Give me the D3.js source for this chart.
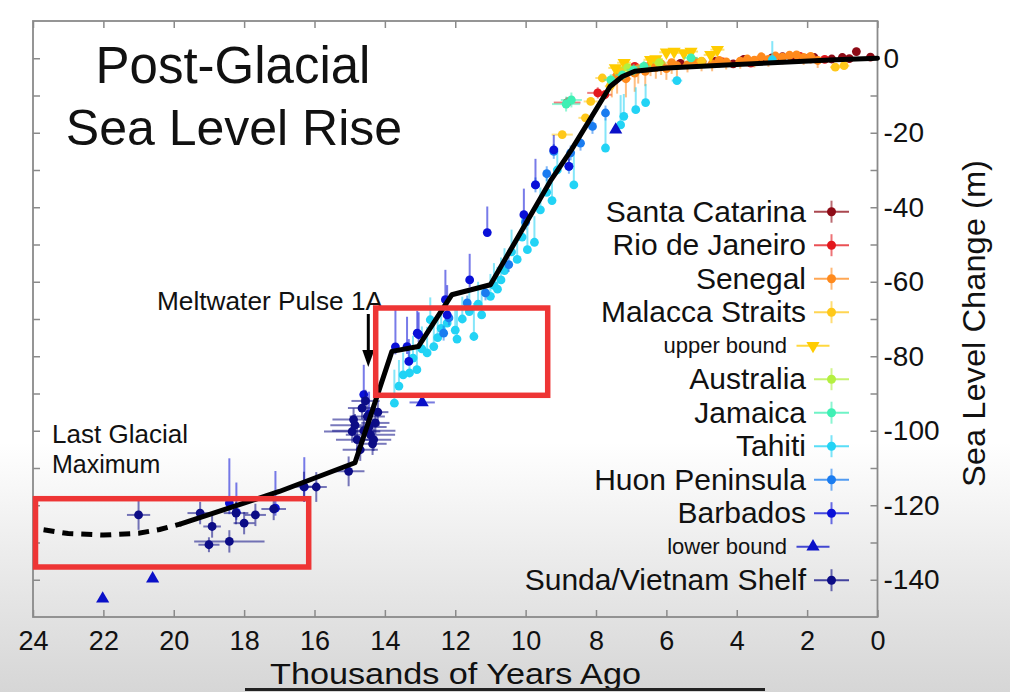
<!DOCTYPE html>
<html><head><meta charset="utf-8">
<script src="https://cdn.jsdelivr.net/npm/d3@7"></script>
<style>
body{margin:0;background:#fff}
svg{display:block}
text{font-family:"Liberation Sans",Arial,Helvetica,sans-serif;fill:#111}
</style>
</head><body>
<svg id="chart" width="1010" height="692"></svg>
<script>
// ---------- DATA (age kyr BP, sea level m, age err, err up, err down) ----------
const xTickValues = [24,22,20,18,16,14,12,10,8,6,4,2,0];
const yTickValues = [0,-10,-20,-30,-40,-50,-60,-70,-80,-90,-100,-110,-120,-130,-140];
const yLabelValues = [0,-20,-40,-60,-80,-100,-120,-140];

const santaCatarina = [[6.6,-2.3,0.15,1,1],[5.6,-1.4,0.15,1,1],[5.0,-0.9,0.15,1,1],[4.6,-0.8,0.15,1,1],[4.1,-1.5,0.15,1,1],[3.8,-0.3,0.15,1,1],[3.3,-0.6,0.15,1,1],[3.0,0.1,0.1,1,1],[2.7,0.4,0.1,1,1],[2.4,-0.2,0.15,1,1],[2.0,-0.1,0.1,1,1],[1.8,0.2,0.1,1,1],[1.3,-0.2,0.1,1,1],[1.0,0.2,0.1,1,1],[0.8,-0.1,0.1,1,1],[0.6,1.8,0.1,1,1],[0.2,0.3,0.1,1,1]];
const rioDeJaneiro = [[8.82,-11.9,0.38,1.5,1.5],[7.95,-9.3,0.3,1.5,1.5],[7.75,-9.8,0.2,1.2,1.2],[6.9,-2.2,0.2,1,1],[5.2,-1.2,0.2,1,1],[4.4,-1.0,0.2,1,1],[3.6,-1.3,0.2,1,1],[2.8,-0.3,0.2,1,1],[2.2,0.5,0.2,1,1],[1.5,-0.3,0.1,1,1]];
const senegal = [[7.55,-6.5,0.1,1,4],[7.4,-4.5,0.15,1,5],[7.15,-5.5,0.15,1,5],[6.9,-4.0,0.15,1,5],[6.8,-2.8,0.15,1,4],[6.6,-3.5,0.15,1,4],[6.45,-1.8,0.15,1,3],[6.3,-2.5,0.15,1,3],[6.15,-1.5,0.15,1,3],[6.0,-2.8,0.15,1,3],[5.85,-1.2,0.15,1,3],[5.7,-2.0,0.15,1,3],[5.4,-1.8,0.15,1,2],[5.2,-0.8,0.15,1,2],[5.0,-1.5,0.15,1,2],[4.7,-1.5,0.15,1,2],[4.5,-0.6,0.15,1,2],[4.3,-1.0,0.15,1,2],[3.9,-0.8,0.15,1,2],[3.7,-0.2,0.15,1,2],[3.5,-0.5,0.15,1,2],[3.3,0.4,0.15,1,2],[3.1,-0.3,0.15,1,2],[2.9,0.6,0.15,1,2],[2.7,0.3,0.15,1,2],[2.5,0.8,0.15,1,2],[2.3,0.9,0.15,1,2],[2.1,0.2,0.15,1,2],[1.9,0.5,0.15,1,2],[1.7,-0.6,0.15,1,2]];
const malaccaStraits = [[8.96,-20.5,0.3,1,1],[8.3,-16.0,0.2,1,1],[8.15,-11.6,0.2,1,1],[7.82,-5.3,0.2,1,1],[7.6,-7.5,0.15,1,1],[7.3,-3.3,0.15,1,1],[5.0,-0.8,0.15,1,1],[1.2,-2.4,0.15,1,1],[0.95,-2.0,0.15,1,1]];
const upperBound = [[7.45,-2.6,0.2,0,0],[7.2,-1.2,0.2,0,0],[6.45,-0.4,0.2,0,0],[6.3,-0.2,0.2,0,0],[6.0,1.6,0.2,0,0],[5.78,1.8,0.2,0,0],[5.5,1.4,0.2,0,0],[5.3,1.8,0.2,0,0],[4.74,0.9,0.2,0,0],[4.55,2.3,0.2,0,0]];
const australia = [[7.1,-2.5,0.2,1,1],[6.2,-1.2,0.2,1,1]];
const jamaica = [[8.85,-12.3,0.4,2,2],[8.7,-11.2,0.3,2,2],[7.58,-5.8,0.2,1.5,1.5],[7.25,-4.5,0.2,1,1],[6.93,-3.1,0.2,1.5,1.5],[6.64,-2.2,0.2,1.5,1.5],[5.3,0.1,0.2,1,1]];
const tahiti = [[13.73,-92.6,0.05,9,0],[13.6,-88.0,0.05,7,0],[13.48,-85.0,0.05,6,0],[13.3,-84.5,0.05,6,0],[13.2,-80.5,0.05,6,0],[13.09,-83.6,0.05,6,0],[12.95,-78.0,0.05,6,0],[12.8,-79.1,0.05,7,0],[12.71,-70.2,0.05,6,0],[12.61,-77.4,0.05,7,0],[12.5,-75.0,0.05,6,0],[12.4,-72.5,0.05,6,0],[12.23,-71.1,0.05,6,0],[12.0,-73.0,0.05,6,0],[11.95,-75.4,0.05,8,0],[11.8,-70.0,0.05,6,0],[11.6,-68.0,0.05,6,0],[11.47,-74.7,0.05,9,0],[11.35,-66.0,0.05,6,0],[11.25,-68.9,0.05,7,0],[11.0,-63.9,0.05,6,0],[10.9,-61.0,0.05,6,0],[10.8,-62.0,0.05,6,0],[10.7,-59.5,0.05,6,0],[10.6,-57.0,0.05,6,0],[10.4,-52.0,0.05,6,0],[10.24,-54.0,0.05,6,0],[10.1,-48.0,0.05,6,0],[9.95,-51.4,0.05,7,0],[9.75,-49.4,0.05,7,0],[9.58,-40.7,0.05,6,0],[9.4,-36.0,0.05,6,0],[9.25,-38.2,0.05,7,0],[9.1,-30.0,0.05,6,0],[8.63,-34.0,0.05,8,0],[7.73,-24.1,0.05,8,0],[7.3,-17.9,0.05,8,0],[7.21,-15.6,0.05,6,0],[6.87,-13.8,0.05,6,0],[6.59,-11.9,0.05,5,0],[5.7,-6.0,0.15,1,1],[2.99,-0.4,0.05,5,0]];
const huonPeninsula = [[12.33,-73.8,0.1,2,2],[12.18,-69.7,0.1,2,2],[11.66,-65.7,0.1,2,2],[11.14,-63.0,0.1,2,2],[10.48,-55.4,0.1,2,2],[10.0,-44.0,0.1,2,2],[9.72,-34.0,0.1,2,2],[9.4,-31.0,0.1,2,2],[9.2,-25.0,0.1,2,2],[8.77,-29.0,0.1,2,2],[8.72,-25.4,0.1,2,2],[8.44,-22.8,0.1,2,2],[8.1,-18.3,0.1,2,2],[7.73,-14.7,0.1,2,2]];
const barbados = [[18.42,-119.4,0.1,12,3],[18.22,-121.9,0.1,8,2],[17.11,-120.8,0.1,10,2],[16.29,-115.1,0.1,8,4],[14.6,-90.3,0.1,8,3],[14.45,-95.5,0.1,6,2],[13.7,-77.5,0.1,10,2],[13.37,-77.4,0.1,8,2],[13.32,-81.4,0.1,6,1],[13.08,-73.8,0.1,6,1],[13.04,-74.2,0.1,6,2],[12.28,-64.8,0.1,8,1],[12.23,-68.9,0.1,8,1],[11.59,-59.5,0.1,7,2],[11.09,-46.8,0.1,7,0],[10.05,-42.0,0.1,7,2],[9.72,-34.0,0.1,7,1],[9.2,-24.6,0.1,4,1],[8.77,-29.0,0.1,4,1]];
const lowerBound = [[22.02,-145.1,0,0,0],[20.6,-139.7,0,0,0],[12.94,-92.4,0.36,0,0],[7.44,-19.2,0,0,0]];
const sundaShelf = [[21.0,-122.6,0.33,4,4],[19.25,-122.1,0.36,3,3],[19.0,-130.6,0.3,2,2],[18.91,-125.7,0.25,3,3],[18.42,-129.7,1.0,3,3],[18.23,-122.1,0.35,3,3],[18.0,-124.8,0.3,3,3],[17.68,-122.6,0.3,3,3],[17.16,-121.0,0.35,3,3],[16.3,-115.0,0.3,4,4],[15.95,-115.1,0.3,4,4],[15.03,-110.9,0.45,4,4],[14.93,-100.2,0.8,3,3],[14.89,-97.0,0.6,3,3],[14.85,-98.5,0.7,3,3],[14.79,-102.4,0.6,3,3],[14.7,-105.1,0.5,3,3],[14.65,-93.9,0.4,3,3],[14.6,-100.0,0.9,3,3],[14.55,-92.0,0.4,3,3],[14.5,-96.2,0.5,3,3],[14.45,-99.0,0.5,3,3],[14.41,-101.1,0.7,3,3],[14.35,-103.5,0.4,3,3],[14.32,-102.4,0.5,3,3],[14.27,-97.9,0.4,3,3],[14.2,-95.0,0.3,3,3]];

const curveSolid = [[19.8,-125.0],[17.0,-116.3],[14.85,-108.6],[13.8,-78.7],[13.05,-77.4],[12.1,-63.5],[11.0,-60.8],[9.3,-33.0],[8.7,-24.6],[7.6,-7.6],[7.25,-4.9],[6.9,-3.5],[6.0,-2.6],[4.0,-1.7],[1.2,-0.4],[0.0,0.0]];
const curveDashed = [[23.7,-126.6],[23.0,-127.6],[22.0,-128.0],[21.0,-127.5],[20.4,-126.5],[19.8,-125.0]];

const legendNames = ["Santa Catarina","Rio de Janeiro","Senegal","Malacca Straits","upper bound","Australia","Jamaica","Tahiti","Huon Peninsula","Barbados","lower bound","Sunda/Vietnam Shelf"];
const legendColors = ["#8e0b16","#e3171c","#ff8a1c","#ffc81a","#ffcc00","#b4f040","#3ff0b4","#22d3f5","#1a7cf0","#0a10d8","#0a10c8","#0c0c86"];
const legendMarkers = ["circle","circle","circle","circle","down","circle","circle","circle","circle","circle","up","circle"];
const seriesData = [santaCatarina,rioDeJaneiro,senegal,malaccaStraits,upperBound,australia,jamaica,tahiti,huonPeninsula,barbados,lowerBound,sundaShelf];

// ---------- LAYOUT ----------
const W = 1010, H = 692;
const plot = {left:33, right:877.5, top:21, bottom:617};
const svg = d3.select("#chart");

const defs = svg.append("defs");
const grad = defs.append("linearGradient").attr("id","bg").attr("x1",0).attr("y1",0).attr("x2",0).attr("y2",1);
grad.append("stop").attr("offset","0%").attr("stop-color","#ffffff");
grad.append("stop").attr("offset","64%").attr("stop-color","#ffffff");
grad.append("stop").attr("offset","80%").attr("stop-color","#ececec");
grad.append("stop").attr("offset","100%").attr("stop-color","#d6d6d6");
svg.append("rect").attr("width",W).attr("height",H).attr("fill","url(#bg)");

const x = d3.scaleLinear().domain([24,0]).range([plot.left, plot.right]);
const y = d3.scaleLinear().domain([-150,10]).range([plot.bottom, plot.top]);

const frameColor = "#8a8a8a";
const gB = svg.append("g").attr("transform",`translate(0,${plot.bottom})`)
  .call(d3.axisBottom(x).tickValues(xTickValues).tickSizeInner(-7).tickSizeOuter(0).tickPadding(13).tickFormat(d=>String(d)));
const gT = svg.append("g").attr("transform",`translate(0,${plot.top})`)
  .call(d3.axisTop(x).tickValues(xTickValues).tickSizeInner(-7).tickSizeOuter(0).tickFormat(""));
const gR = svg.append("g").attr("transform",`translate(${plot.right},0)`)
  .call(d3.axisRight(y).tickValues(yTickValues).tickSizeInner(-7).tickSizeOuter(0).tickPadding(6)
    .tickFormat(d=> yLabelValues.includes(d) ? String(d) : ""));
const gL = svg.append("g").attr("transform",`translate(${plot.left},0)`)
  .call(d3.axisLeft(y).tickValues(yTickValues).tickSizeInner(-7).tickSizeOuter(0).tickFormat(""));
[gB,gT,gR,gL].forEach(g=>{
  g.select(".domain").remove();
  g.selectAll(".tick line").attr("stroke",frameColor).attr("stroke-width",1.5);
  g.selectAll(".tick text").attr("font-size",28).attr("fill","#111")
    .attr("font-family",'"Liberation Sans",Arial,sans-serif');
});
gB.selectAll(".tick text").attr("font-size",27).attr("dy","0.74em");
svg.append("rect").attr("x",plot.left).attr("y",plot.top)
  .attr("width",plot.right-plot.left).attr("height",plot.bottom-plot.top)
  .attr("fill","none").attr("stroke",frameColor).attr("stroke-width",1.8);

// ---------- DATA MARKS ----------
const gData = svg.append("g");
function drawMarker(g, kind, cx, cy, color, big){
  if(kind==="circle"){
    g.append("circle").attr("cx",cx).attr("cy",cy).attr("r",big?4.5:4.4).attr("fill",color);
  } else {
    g.append("path").attr("d",d3.symbol(d3.symbolTriangle, 75)())
      .attr("transform",`translate(${cx},${cy})${kind==="down"?" rotate(180)":""}`)
      .attr("fill",color);
  }
}
seriesData.forEach((data,i)=>{
  const color = legendColors[i];
  const g = gData.append("g");
  data.forEach(d=>{
    const [a,l,ae,up,dn] = d;
    if(ae>0) g.append("line").attr("x1",x(a+ae)).attr("x2",x(a-ae)).attr("y1",y(l)).attr("y2",y(l))
      .attr("stroke",color).attr("stroke-width",2).attr("opacity",0.55);
    if(up>0||dn>0) g.append("line").attr("x1",x(a)).attr("x2",x(a)).attr("y1",y(l+up)).attr("y2",y(l-dn))
      .attr("stroke",color).attr("stroke-width",2).attr("opacity",0.55);
  });
  data.forEach(d=> drawMarker(g, legendMarkers[i], x(d[0]), y(d[1]), color));
});

// ---------- CURVE ----------
const line = d3.line().x(d=>x(d[0])).y(d=>y(d[1]));
svg.append("path").attr("d",line(curveDashed)).attr("fill","none").attr("stroke","#000")
  .attr("stroke-width",5).attr("stroke-dasharray","11,8");
svg.append("path").attr("d",line(curveSolid)).attr("fill","none").attr("stroke","#000")
  .attr("stroke-width",5).attr("stroke-linejoin","round").attr("stroke-linecap","round");

// ---------- LEGEND ----------
const lg = svg.append("g");
legendNames.forEach((name,i)=>{
  const base = 221.7 + i*33.5;
  const small = legendMarkers[i] !== "circle";
  const color = legendColors[i];
  const tx = small ? 787 : 806;
  lg.append("text").attr("x",tx).attr("y", small ? base-3 : base).attr("text-anchor","end")
    .attr("font-size", small ? 22 : 30).text(name);
  const cy = base - 10;
  const cx = small ? 813 : 831.5;
  const hw = small ? 16.5 : 17.5;
  lg.append("line").attr("x1",cx-hw).attr("x2",cx+hw).attr("y1",cy).attr("y2",cy)
    .attr("stroke",color).attr("stroke-width",2).attr("opacity",0.75);
  if(!small) lg.append("line").attr("x1",cx).attr("x2",cx).attr("y1",cy-11).attr("y2",cy+11)
    .attr("stroke",color).attr("stroke-width",2).attr("opacity",0.6);
  drawMarker(lg, legendMarkers[i], cx, cy, color, true);
});

// ---------- TEXT ----------
svg.append("text").attr("x",233).attr("y",83).attr("text-anchor","middle")
  .attr("font-family","Lato, 'Open Sans', sans-serif").attr("font-size",51).text("Post-Glacial");
svg.append("text").attr("x",234).attr("y",145).attr("text-anchor","middle")
  .attr("font-family","Lato, 'Open Sans', sans-serif").attr("font-size",50).text("Sea Level Rise");

svg.append("text").attr("x",157).attr("y",310).attr("font-size",26).attr("textLength",226).attr("lengthAdjust","spacingAndGlyphs").text("Meltwater Pulse 1A");
svg.append("text").attr("x",52).attr("y",443).attr("font-size",25).attr("textLength",136).attr("lengthAdjust","spacingAndGlyphs").text("Last Glacial");
svg.append("text").attr("x",52).attr("y",473).attr("font-size",25).text("Maximum");

// arrow for MWP-1A
svg.append("line").attr("x1",368.3).attr("x2",368.3).attr("y1",314).attr("y2",353)
  .attr("stroke","#000").attr("stroke-width",3);
svg.append("path").attr("d","M362.3,350 L374.3,350 L368.3,367 Z").attr("fill","#000");

svg.append("text").attr("x",455.5).attr("y",684).attr("text-anchor","middle").attr("font-size",30)
  .attr("textLength",371).attr("lengthAdjust","spacingAndGlyphs").text("Thousands of Years Ago");
svg.append("text").attr("transform","translate(985,323.5) rotate(-90)").attr("text-anchor","middle")
  .attr("font-size",31).attr("textLength",327).attr("lengthAdjust","spacingAndGlyphs").text("Sea Level Change (m)");

// highlight boxes
svg.append("rect").attr("x",35.5).attr("y",498.7).attr("width",273.2).attr("height",68.3)
  .attr("fill","none").attr("stroke","#ee3535").attr("stroke-width",5.5);
svg.append("rect").attr("x",375.7).attr("y",308).attr("width",172).attr("height",87.3)
  .attr("fill","none").attr("stroke","#ee3535").attr("stroke-width",5.5);

// bottom rule
svg.append("line").attr("x1",245).attr("x2",765).attr("y1",689.5).attr("y2",689.5)
  .attr("stroke","#222").attr("stroke-width",3);
</script>
</body></html>
